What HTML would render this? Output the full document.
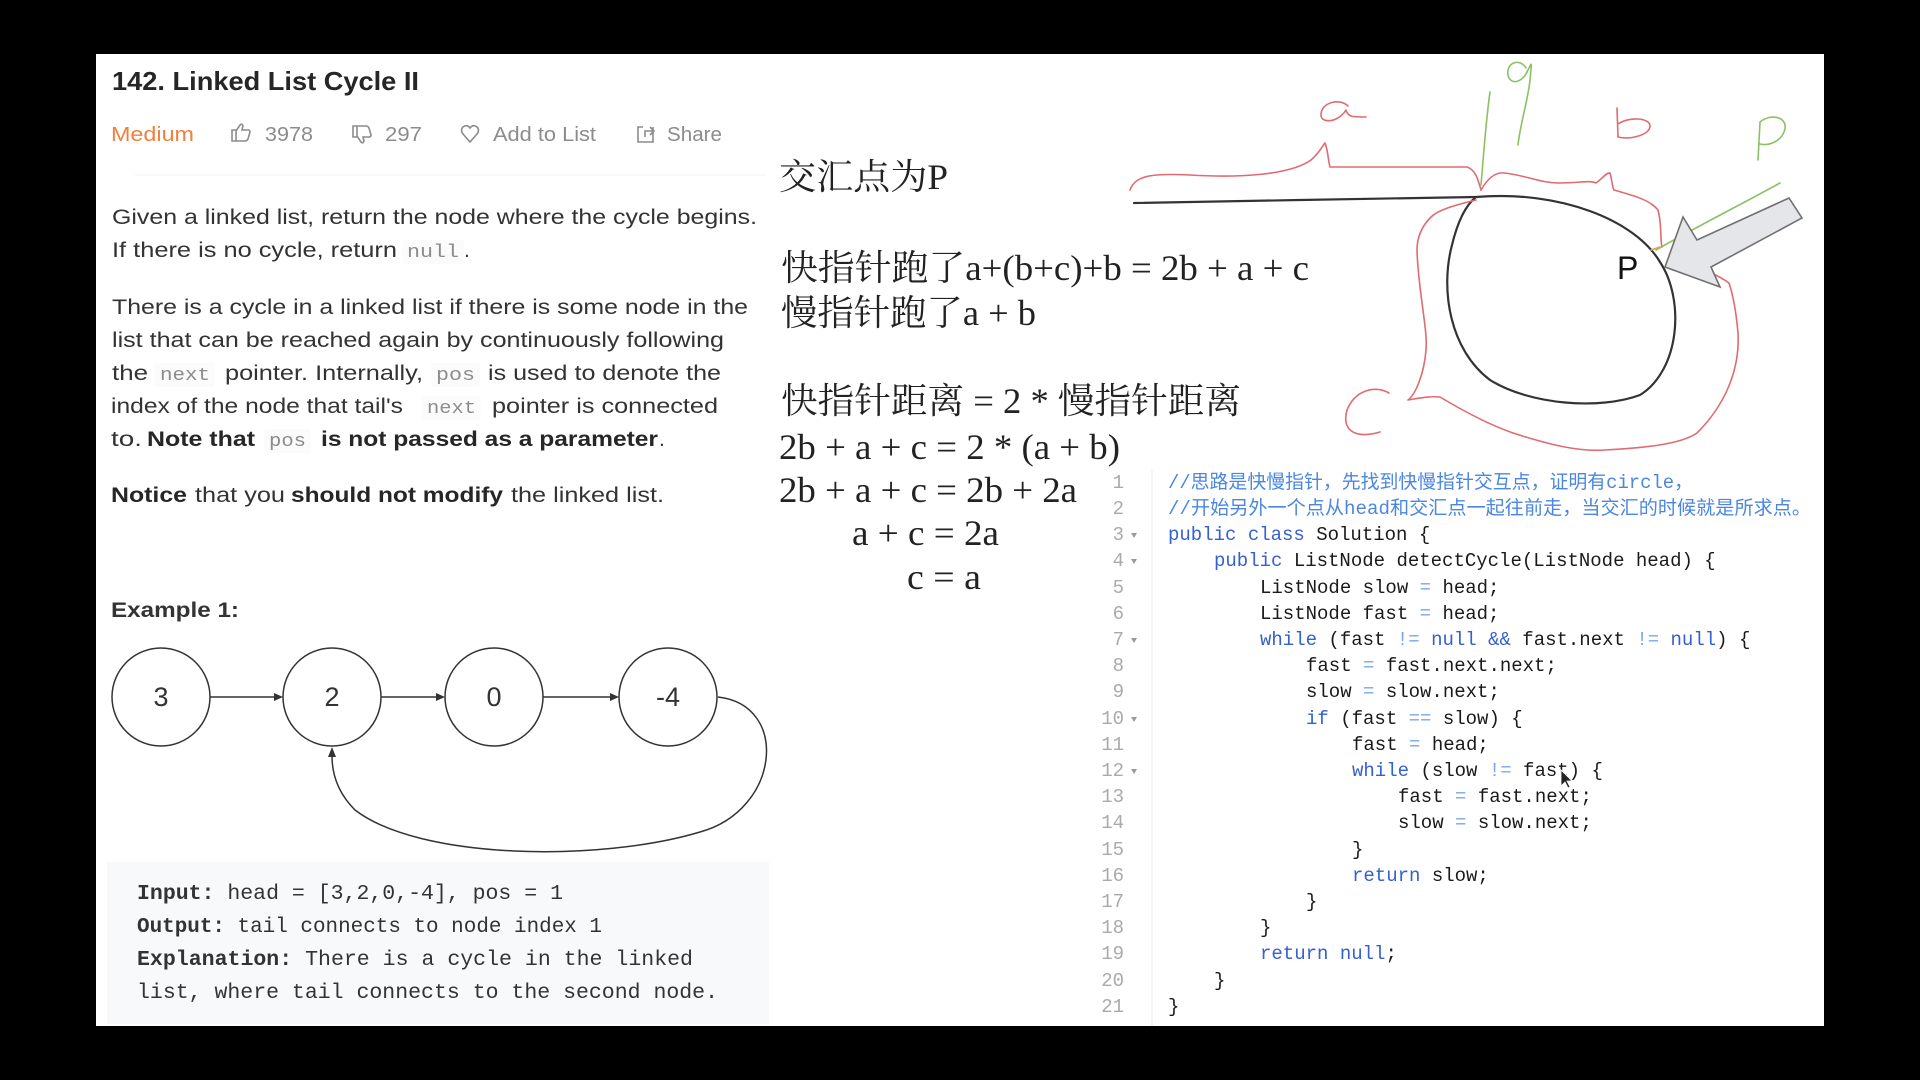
<!DOCTYPE html>
<html><head><meta charset="utf-8"><style>
html,body{margin:0;padding:0;background:#000;width:1920px;height:1080px;overflow:hidden}
svg{display:block}
.s{font-family:"Liberation Sans","Noto Sans CJK SC",sans-serif}
.m{font-family:"Liberation Mono","Noto Sans CJK SC",monospace;white-space:pre}
.f{font-family:"Liberation Serif","Noto Serif CJK SC",serif}
</style></head><body>
<svg width="1920" height="1080" viewBox="0 0 1920 1080" xmlns="http://www.w3.org/2000/svg">
<rect x="0" y="0" width="1920" height="1080" fill="#000"/>
<rect x="96" y="54" width="1728" height="972" fill="#fff"/>

<g class="s">
<text x="112" y="90" font-size="26" font-weight="bold" fill="#262626" textLength="307" lengthAdjust="spacingAndGlyphs">142. Linked List Cycle II</text>
<g font-size="20" fill="#8c8c8c">
<text x="111" y="141" fill="#f0803c" textLength="83" lengthAdjust="spacingAndGlyphs">Medium</text>
<text x="265" y="141" textLength="48" lengthAdjust="spacingAndGlyphs">3978</text>
<text x="385" y="141" textLength="37" lengthAdjust="spacingAndGlyphs">297</text>
<text x="493" y="141" textLength="103" lengthAdjust="spacingAndGlyphs">Add to List</text>
<text x="667" y="141" textLength="55" lengthAdjust="spacingAndGlyphs">Share</text>
</g>
<g fill="none" stroke="#8c8c8c" stroke-width="1.6">
<path d="M232,130 h4 v11 h-4 z M236,131 l4,-6 q2,-2 3,1 l-1,4 h6 q2,0 2,2 l-2,7 q-1,2 -3,2 h-9"/>
<path d="M353,126 h4 v11 h-4 z M357,136 l4,6 q2,2 3,-1 l-1,-4 h6 q2,0 2,-2 l-2,-7 q-1,-2 -3,-2 h-9"/>
<path d="M470,142 l-7,-8 q-3,-4 0,-7 q4,-3 7,1 q3,-4 7,-1 q3,3 0,7 z"/>
<path d="M643,127 h-5 v15 h15 v-15 M645,137 v-6 h9 M650,127 l4,4 l-4,4"/>
</g>
<line x1="135" y1="175" x2="765" y2="175" stroke="#f7f7f7" stroke-width="1.5"/>

<g font-size="21" fill="#333">
<text x="112" y="224" textLength="645" lengthAdjust="spacingAndGlyphs">Given a linked list, return the node where the cycle begins.</text>
<text x="112" y="257" textLength="285" lengthAdjust="spacingAndGlyphs">If there is no cycle, return</text>
<text x="464" y="257">.</text>
<text x="112" y="314" textLength="636" lengthAdjust="spacingAndGlyphs">There is a cycle in a linked list if there is some node in the</text>
<text x="112" y="347" textLength="612" lengthAdjust="spacingAndGlyphs">list that can be reached again by continuously following</text>
<text x="112" y="380" textLength="36" lengthAdjust="spacingAndGlyphs">the</text>
<text x="225" y="380" textLength="198" lengthAdjust="spacingAndGlyphs">pointer. Internally,</text>
<text x="488" y="380" textLength="233" lengthAdjust="spacingAndGlyphs">is used to denote the</text>
<text x="111" y="413" textLength="292" lengthAdjust="spacingAndGlyphs">index of the node that tail's</text>
<text x="492" y="413" textLength="226" lengthAdjust="spacingAndGlyphs">pointer is connected</text>
<text x="111" y="446" textLength="31" lengthAdjust="spacingAndGlyphs">to.</text>
<text x="147" y="446" font-weight="bold" fill="#262626" textLength="108" lengthAdjust="spacingAndGlyphs">Note that</text>
<text x="321" y="446" font-weight="bold" fill="#262626" textLength="337" lengthAdjust="spacingAndGlyphs">is not passed as a parameter</text>
<text x="659" y="446">.</text>
<text x="111" y="502" font-weight="bold" fill="#262626" textLength="76" lengthAdjust="spacingAndGlyphs">Notice</text>
<text x="195" y="502" textLength="90" lengthAdjust="spacingAndGlyphs">that you</text>
<text x="291" y="502" font-weight="bold" fill="#262626" textLength="212" lengthAdjust="spacingAndGlyphs">should not modify</text>
<text x="511" y="502" textLength="153" lengthAdjust="spacingAndGlyphs">the linked list.</text>
<text x="111" y="617" font-weight="bold" fill="#333" textLength="128" lengthAdjust="spacingAndGlyphs">Example 1:</text>
</g>
</g>
<g class="m" font-size="18" fill="#8c8c8c">
<rect x="402" y="240" width="62" height="24" rx="3" fill="#fbfbfb"/>
<text x="407" y="257" textLength="52" lengthAdjust="spacingAndGlyphs">null</text>
<rect x="155" y="363" width="60" height="24" rx="3" fill="#fbfbfb"/>
<text x="160" y="380" textLength="50" lengthAdjust="spacingAndGlyphs">next</text>
<rect x="431" y="363" width="49" height="24" rx="3" fill="#fbfbfb"/>
<text x="436" y="380" textLength="39" lengthAdjust="spacingAndGlyphs">pos</text>
<rect x="422" y="396" width="59" height="24" rx="3" fill="#fbfbfb"/>
<text x="427" y="413" textLength="49" lengthAdjust="spacingAndGlyphs">next</text>
<rect x="264" y="429" width="47" height="24" rx="3" fill="#fbfbfb"/>
<text x="269" y="446" textLength="37" lengthAdjust="spacingAndGlyphs">pos</text>
</g>

<g fill="none" stroke="#333" stroke-width="1.5">
<circle cx="161" cy="697" r="49"/>
<circle cx="332" cy="697" r="49"/>
<circle cx="494" cy="697" r="49"/>
<circle cx="668" cy="697" r="49"/>
<line x1="210" y1="697" x2="278" y2="697"/>
<line x1="381" y1="697" x2="440" y2="697"/>
<line x1="543" y1="697" x2="614" y2="697"/>
<path d="M718,697 C790,705 780,810 700,832 C600,862 420,860 355,810 C335,790 332,770 332,756"/>
</g>
<g fill="#333">
<path d="M283,697 l-9,-4 v8 z"/>
<path d="M445,697 l-9,-4 v8 z"/>
<path d="M619,697 l-9,-4 v8 z"/>
<path d="M332,747 l-4,10 h8 z"/>
</g>
<g class="s" font-size="27" fill="#333" text-anchor="middle">
<text x="161" y="706">3</text>
<text x="332" y="706">2</text>
<text x="494" y="706">0</text>
<text x="668" y="706">-4</text>
</g>

<rect x="107" y="862" width="662" height="162" fill="#f8f9fa"/>
<g class="m" font-size="21" fill="#333">
<text x="137" y="899" textLength="426" lengthAdjust="spacingAndGlyphs"><tspan font-weight="bold">Input:</tspan> head = [3,2,0,-4], pos = 1</text>
<text x="137" y="932" textLength="465" lengthAdjust="spacingAndGlyphs"><tspan font-weight="bold">Output:</tspan> tail connects to node index 1</text>
<text x="137" y="965" textLength="556" lengthAdjust="spacingAndGlyphs"><tspan font-weight="bold">Explanation:</tspan> There is a cycle in the linked</text>
<text x="137" y="998" textLength="581" lengthAdjust="spacingAndGlyphs">list, where tail connects to the second node.</text>
</g>

<g class="f" font-size="36" fill="#222">
<text x="779" y="189" textLength="169" lengthAdjust="spacingAndGlyphs">交汇点为P</text>
<text x="781" y="280" textLength="528" lengthAdjust="spacingAndGlyphs">快指针跑了a+(b+c)+b = 2b + a + c</text>
<text x="781" y="325" textLength="255" lengthAdjust="spacingAndGlyphs">慢指针跑了a + b</text>
<text x="781" y="413" textLength="460" lengthAdjust="spacingAndGlyphs">快指针距离 = 2 * 慢指针距离</text>
<text x="779" y="459" textLength="341" lengthAdjust="spacingAndGlyphs">2b + a + c = 2 * (a + b)</text>
<text x="779" y="502" textLength="298" lengthAdjust="spacingAndGlyphs">2b + a + c = 2b + 2a</text>
<text x="852" y="545" textLength="147" lengthAdjust="spacingAndGlyphs">a + c = 2a</text>
<text x="907" y="589" textLength="74" lengthAdjust="spacingAndGlyphs">c = a</text>
</g>

<g fill="none" stroke-linecap="round" stroke-linejoin="round">
<path d="M1134,203 L1300,200 L1476,197" stroke="#333" stroke-width="2.2"/>
<path d="M1476,197 C1560,190 1635,220 1660,262 C1685,300 1680,370 1640,395 C1600,410 1530,405 1490,380 C1450,350 1440,290 1452,245 C1458,220 1466,205 1476,197 Z" stroke="#333" stroke-width="2.2"/>
<path d="M1130,190 C1135,176 1150,173 1190,175 C1240,178 1290,175 1311,160 C1320,152 1323,145 1325,143 C1328,150 1328,160 1330,167 L1467,167 C1476,170 1478,180 1481,190" stroke="#e06b70" stroke-width="1.6"/>
<path d="M1481,190 C1488,178 1496,172 1504,173 C1525,175 1540,183 1559,183 C1580,183 1590,180 1596,183 C1603,178 1607,172 1610,173 C1612,180 1612,186 1614,190 C1635,196 1650,200 1658,210 C1662,225 1660,240 1662,247" stroke="#e06b70" stroke-width="1.6"/>
<path d="M1476,200 C1455,205 1438,210 1431,217 C1420,228 1417,240 1417,250 C1418,290 1428,330 1426,350 C1424,375 1415,395 1408,400 C1420,398 1430,396 1440,397 C1465,412 1490,425 1513,433 C1550,445 1580,452 1605,450 C1640,448 1680,445 1697,433 C1725,405 1740,370 1738,333 C1736,310 1733,295 1729,283 C1722,278 1716,275 1711,273" stroke="#e06b70" stroke-width="1.6"/>
<path d="M1348,106 C1340,98 1322,102 1321,114 C1320,124 1338,123 1346,110 C1348,117 1352,117 1366,117" stroke="#e06b70" stroke-width="1.6"/>
<path d="M1617,108 L1618,137 C1630,140 1650,135 1650,126 C1650,118 1630,116 1618,124" stroke="#e06b70" stroke-width="1.6"/>
<path d="M1389,393 C1375,385 1355,390 1347,410 C1342,428 1352,440 1380,432" stroke="#e06b70" stroke-width="1.6"/>
<path d="M1490,92 C1486,120 1484,150 1481,185" stroke="#8cc063" stroke-width="1.6"/>
<path d="M1526,68 C1520,58 1506,62 1508,75 C1510,85 1522,84 1528,70 C1532,62 1532,60 1530,80 C1528,100 1520,125 1518,145" stroke="#8cc063" stroke-width="1.6"/>
<path d="M1758,160 L1760,122 C1772,112 1790,118 1784,132 C1780,142 1768,146 1760,144" stroke="#8cc063" stroke-width="1.6"/>
<path d="M1780,183 C1740,205 1700,225 1656,250" stroke="#8cc063" stroke-width="1.6"/>
<path d="M1651,250 L1660,247" stroke="#e0a060" stroke-width="1.6"/>
</g>
<path d="M1665,267 L1683,217 L1697,240 L1789,198 L1802,218 L1711,267 L1720,287 Z" fill="#e4e6ea" stroke="#707070" stroke-width="1.6"/>
<text x="1617" y="279" class="s" font-size="32" fill="#111">P</text>

<line x1="1152" y1="470" x2="1152" y2="1026" stroke="#f5f5f5" stroke-width="2"/>
<g class="m" font-size="19" fill="#aaa" text-anchor="end">
<text x="1124" y="488">1</text><text x="1124" y="514">2</text><text x="1124" y="540">3</text>
<text x="1124" y="566">4</text><text x="1124" y="593">5</text><text x="1124" y="619">6</text>
<text x="1124" y="645">7</text><text x="1124" y="671">8</text><text x="1124" y="697">9</text>
<text x="1124" y="724">10</text><text x="1124" y="750">11</text><text x="1124" y="776">12</text>
<text x="1124" y="802">13</text><text x="1124" y="828">14</text><text x="1124" y="855">15</text>
<text x="1124" y="881">16</text><text x="1124" y="907">17</text><text x="1124" y="933">18</text>
<text x="1124" y="959">19</text><text x="1124" y="986">20</text><text x="1124" y="1012">21</text>
</g>
<g fill="#999">
<path d="M1131,533 h6 l-3,5 z"/><path d="M1131,559 h6 l-3,5 z"/>
<path d="M1131,638 h6 l-3,5 z"/><path d="M1131,717 h6 l-3,5 z"/>
<path d="M1131,769 h6 l-3,5 z"/>
</g>
<g class="m" font-size="19" fill="#1a1a1a">
<text x="1168" y="488" fill="#4b86e0" textLength="525" lengthAdjust="spacingAndGlyphs">//思路是快慢指针，先找到快慢指针交互点，证明有circle，</text>
<text x="1168" y="514" fill="#4b86e0" textLength="643" lengthAdjust="spacingAndGlyphs">//开始另外一个点从head和交汇点一起往前走，当交汇的时候就是所求点。</text>
<text x="1168" y="540"><tspan fill="#3560d0">public class</tspan> Solution {</text>
<text x="1214" y="566"><tspan fill="#3560d0">public</tspan> ListNode detectCycle(ListNode head) {</text>
<text x="1260" y="593">ListNode slow <tspan fill="#7aa7ea">=</tspan> head;</text>
<text x="1260" y="619">ListNode fast <tspan fill="#7aa7ea">=</tspan> head;</text>
<text x="1260" y="645"><tspan fill="#3560d0">while</tspan> (fast <tspan fill="#7aa7ea">!=</tspan> <tspan fill="#3560d0">null</tspan> <tspan fill="#3560d0">&amp;&amp;</tspan> fast.next <tspan fill="#7aa7ea">!=</tspan> <tspan fill="#3560d0">null</tspan>) {</text>
<text x="1306" y="671">fast <tspan fill="#7aa7ea">=</tspan> fast.next.next;</text>
<text x="1306" y="697">slow <tspan fill="#7aa7ea">=</tspan> slow.next;</text>
<text x="1306" y="724"><tspan fill="#3560d0">if</tspan> (fast <tspan fill="#7aa7ea">==</tspan> slow) {</text>
<text x="1352" y="750">fast <tspan fill="#7aa7ea">=</tspan> head;</text>
<text x="1352" y="776"><tspan fill="#3560d0">while</tspan> (slow <tspan fill="#7aa7ea">!=</tspan> fast) {</text>
<text x="1398" y="802">fast <tspan fill="#7aa7ea">=</tspan> fast.next;</text>
<text x="1398" y="828">slow <tspan fill="#7aa7ea">=</tspan> slow.next;</text>
<text x="1352" y="855">}</text>
<text x="1352" y="881"><tspan fill="#3560d0">return</tspan> slow;</text>
<text x="1306" y="907">}</text>
<text x="1260" y="933">}</text>
<text x="1260" y="959"><tspan fill="#3560d0">return</tspan> <tspan fill="#3560d0">null</tspan>;</text>
<text x="1214" y="986">}</text>
<text x="1168" y="1012">}</text>
</g>
<path d="M1561,770 v16 l4,-4 l3,6 l2,-1 l-3,-6 h5 z" fill="#222" stroke="#fff" stroke-width="0.8"/>
</svg>
</body></html>
